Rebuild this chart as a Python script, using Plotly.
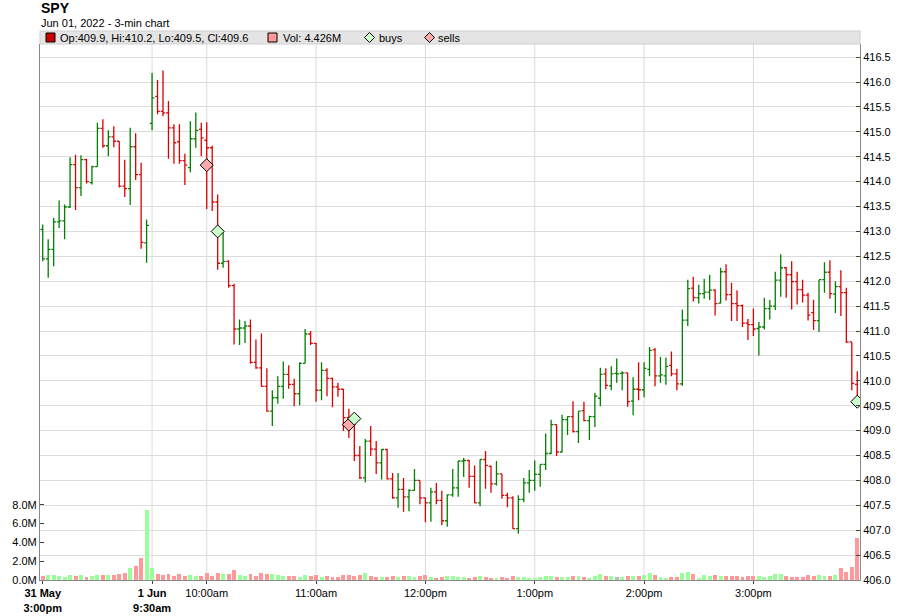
import plotly.graph_objects as go
from datetime import datetime, timedelta

# ---------------- data ----------------
symbol = "SPY"
chart_date = "Jun 01, 2022"
bar_minutes = 3
session_days = ["2022-05-31", "2022-06-01"]
session_starts = ["15:00", "09:30"]
session_bars = [20, 130]

opens = [413.04, 412.45, 412.64, 413.19, 413.21, 413.49, 414.34, 413.88, 414.44, 413.98,
         414.30, 415.07, 414.72, 414.90, 414.81, 413.91, 413.86, 414.70, 414.14, 412.77,
         415.17, 415.71, 415.41, 415.38, 415.08, 414.80, 414.42, 414.28, 414.86, 415.05,
         414.83, 414.68, 413.59, 412.36, 412.40, 411.91, 411.04, 411.06, 411.10, 410.37,
         410.26, 409.89, 409.39, 409.66, 409.89, 410.13, 409.93, 409.74, 410.35, 410.94,
         410.75, 409.81, 410.21, 410.05, 409.88, 409.83, 409.26, 409.12, 408.50, 408.05,
         408.79, 408.63, 408.35, 408.62, 408.03, 407.65, 407.82, 407.67, 407.80, 408.00,
         407.65, 407.55, 407.77, 407.60, 407.19, 407.71, 407.85, 408.39, 408.40, 408.08,
         407.55, 408.42, 408.28, 407.93, 408.13, 407.70, 407.65, 407.03, 407.62, 407.95,
         408.00, 408.12, 408.32, 408.54, 409.12, 408.57, 409.22, 409.28, 408.98, 409.40,
         409.20, 409.28, 409.65, 410.14, 409.90, 410.15, 410.15, 410.16, 409.59, 409.83,
         409.82, 410.23, 410.62, 410.10, 410.10, 410.31, 410.14, 409.94, 411.22, 411.86,
         411.67, 411.75, 411.78, 411.82, 411.56, 412.19, 411.73, 411.55, 411.51, 411.16,
         411.13, 411.05, 411.08, 411.45, 411.50, 412.02, 412.27, 412.13, 411.99, 411.83,
         411.72, 411.37, 411.21, 412.03, 412.18, 411.74, 411.89, 411.77, 410.78, 409.93]

highs = [413.14, 412.84, 413.27, 413.62, 413.54, 414.49, 414.54, 414.53, 414.46, 414.32,
         415.18, 415.25, 415.03, 415.11, 414.81, 414.44, 415.08, 414.97, 414.38, 413.24,
         416.18, 416.04, 416.23, 415.62, 415.15, 415.15, 414.56, 415.21, 415.39, 415.18,
         415.19, 414.72, 413.74, 413.00, 412.42, 411.95, 411.23, 411.20, 411.23, 410.83,
         410.95, 410.25, 409.81, 410.09, 410.39, 410.31, 410.04, 410.37, 411.04, 411.00,
         410.76, 410.37, 410.25, 410.06, 409.96, 409.84, 409.44, 409.19, 408.69, 408.83,
         409.09, 408.79, 408.63, 408.63, 408.15, 408.15, 408.05, 407.82, 408.23, 408.00,
         407.65, 407.85, 407.95, 407.79, 407.72, 408.23, 408.39, 408.45, 408.41, 408.30,
         408.42, 408.59, 408.30, 408.39, 408.13, 407.75, 407.68, 407.70, 408.05, 408.21,
         408.40, 408.32, 408.94, 409.22, 409.12, 409.32, 409.29, 409.59, 409.39, 409.58,
         409.30, 409.76, 410.26, 410.25, 410.29, 410.45, 410.19, 410.16, 410.07, 410.37,
         410.37, 410.68, 410.66, 410.48, 410.47, 410.59, 410.24, 411.43, 412.03, 412.09,
         411.93, 412.05, 412.13, 411.84, 412.27, 412.34, 411.97, 411.82, 411.53, 411.24,
         411.45, 411.18, 411.67, 411.62, 412.19, 412.54, 412.28, 412.40, 412.19, 412.03,
         411.77, 411.63, 412.03, 412.38, 412.42, 412.00, 412.22, 411.87, 410.78, 410.19]

lows = [412.40, 412.07, 412.30, 413.07, 412.84, 413.47, 413.43, 413.71, 413.96, 413.94,
        414.30, 414.68, 414.51, 414.69, 413.88, 413.69, 413.53, 414.03, 412.65, 412.37,
        415.03, 415.35, 415.31, 414.46, 414.36, 414.36, 413.93, 414.19, 414.68, 414.51,
        413.45, 413.41, 412.23, 412.27, 411.87, 410.73, 410.72, 410.76, 410.34, 410.24,
        409.88, 409.38, 409.09, 409.54, 409.64, 409.84, 409.49, 409.51, 410.35, 410.72,
        409.58, 409.61, 409.69, 409.47, 409.68, 408.99, 408.85, 408.39, 408.03, 407.96,
        408.49, 408.13, 408.02, 408.02, 407.63, 407.45, 407.37, 407.38, 407.79, 407.52,
        407.16, 407.17, 407.52, 407.10, 407.07, 407.67, 407.67, 408.07, 407.85, 407.54,
        407.48, 407.83, 407.75, 407.90, 407.63, 407.46, 407.03, 406.93, 407.56, 407.75,
        407.79, 407.87, 408.21, 408.53, 408.49, 408.56, 408.91, 408.96, 408.75, 409.19,
        408.81, 409.07, 409.49, 409.83, 409.81, 409.96, 409.81, 409.48, 409.31, 409.61,
        409.67, 410.09, 409.89, 409.96, 409.92, 410.09, 409.81, 409.90, 411.10, 411.59,
        411.55, 411.65, 411.62, 411.31, 411.55, 411.61, 411.20, 411.20, 411.08, 410.82,
        410.90, 410.51, 411.03, 411.23, 411.42, 411.69, 411.67, 411.43, 411.53, 411.57,
        411.21, 411.02, 410.98, 411.77, 411.65, 411.36, 411.30, 410.76, 409.81, 409.48]

closes = [412.45, 412.64, 413.19, 413.21, 413.49, 414.34, 413.88, 414.44, 414.00, 414.30,
          415.07, 414.72, 414.90, 414.81, 413.91, 413.86, 414.70, 414.14, 412.78, 413.12,
          415.68, 415.41, 415.38, 415.08, 414.78, 414.42, 414.33, 414.86, 415.03, 414.88,
          414.68, 413.59, 412.36, 412.40, 411.91, 411.04, 411.06, 411.10, 410.37, 410.26,
          409.89, 409.39, 409.66, 409.89, 410.13, 409.93, 409.74, 410.35, 410.94, 410.75,
          409.81, 410.21, 410.05, 409.88, 409.83, 409.26, 409.12, 408.50, 408.05, 408.79,
          408.63, 408.35, 408.62, 408.03, 407.65, 407.82, 407.67, 407.80, 408.00, 407.65,
          407.55, 407.77, 407.60, 407.19, 407.71, 407.85, 408.39, 408.40, 408.08, 407.55,
          408.42, 408.30, 407.93, 408.13, 407.70, 407.65, 407.03, 407.62, 407.95, 408.00,
          408.12, 408.32, 408.54, 409.12, 408.57, 409.22, 409.28, 408.98, 409.39, 409.20,
          409.28, 409.69, 410.13, 409.91, 410.14, 410.14, 410.16, 409.58, 409.83, 409.82,
          410.25, 410.61, 410.10, 410.12, 410.29, 410.14, 409.94, 411.22, 411.85, 411.67,
          411.75, 411.78, 411.82, 411.55, 412.19, 411.73, 411.55, 411.51, 411.16, 411.13,
          411.04, 411.08, 411.45, 411.50, 412.02, 412.27, 412.13, 411.99, 411.83, 411.72,
          411.32, 411.21, 412.03, 412.18, 411.75, 411.89, 411.77, 410.78, 409.95, 409.58]

prior_close = 412.30

volumes_m = [0.43, 0.53, 0.53, 0.43, 0.32, 0.53, 0.43, 0.53, 0.32, 0.43,
             0.53, 0.53, 0.53, 0.53, 0.64, 0.74, 1.28, 1.49, 2.34, 7.44,
             1.28, 0.64, 0.53, 0.64, 0.43, 0.64, 0.43, 0.53, 0.43, 0.43,
             0.74, 0.43, 0.74, 0.64, 0.64, 1.06, 0.53, 0.43, 0.64, 0.43,
             0.74, 0.64, 0.64, 0.53, 0.43, 0.43, 0.43, 0.32, 0.53, 0.43,
             0.53, 0.32, 0.43, 0.32, 0.32, 0.53, 0.53, 0.43, 0.53, 0.74,
             0.43, 0.32, 0.32, 0.32, 0.43, 0.32, 0.43, 0.43, 0.32, 0.43,
             0.53, 0.32, 0.21, 0.34, 0.43, 0.43, 0.34, 0.34, 0.23, 0.34,
             0.43, 0.34, 0.23, 0.23, 0.34, 0.23, 0.43, 0.34, 0.34, 0.25,
             0.25, 0.35, 0.43, 0.43, 0.35, 0.35, 0.35, 0.43, 0.43, 0.35,
             0.25, 0.43, 0.67, 0.43, 0.43, 0.35, 0.35, 0.43, 0.43, 0.43,
             0.53, 0.74, 0.53, 0.35, 0.25, 0.35, 0.35, 0.71, 0.82, 0.60,
             0.25, 0.53, 0.43, 0.53, 0.43, 0.43, 0.43, 0.43, 0.35, 0.43,
             0.43, 0.43, 0.35, 0.43, 0.60, 0.67, 0.43, 0.35, 0.35, 0.35,
             0.53, 0.43, 0.53, 0.43, 0.43, 0.53, 1.28, 0.85, 1.38, 4.426]

buy_bars = [32, 57, 149]
buy_prices = [413.00, 409.24, 409.58]
sell_bars = [30, 56]
sell_prices = [414.33, 409.12]

tick_times = ["2022-05-31 15:00", "2022-06-01 09:30", "2022-06-01 10:00", "2022-06-01 11:00",
              "2022-06-01 12:00", "2022-06-01 13:00", "2022-06-01 14:00", "2022-06-01 15:00"]
tick_labels = ["<b>31 May</b><br><b>3:00pm</b>", "<b>1 Jun</b><br><b>9:30am</b>", "10:00am",
               "11:00am", "12:00pm", "1:00pm", "2:00pm", "3:00pm"]

price_ticks_step = 0.5
vol_tick_values_m = [0, 2, 4, 6, 8]

# ---------------- derived ----------------
times = []
for day, start, n in zip(session_days, session_starts, session_bars):
    t0 = datetime.strptime(day + " " + start, "%Y-%m-%d %H:%M")
    for k in range(n):
        times.append((t0 + timedelta(minutes=bar_minutes * k)).strftime("%Y-%m-%d %H:%M"))
idx = list(range(len(times)))
tick_x = [times.index(t) for t in tick_times]

UP, DOWN = "#008000", "#dd0000"
VUP, VDOWN, VFLAT = "#99ff99", "#ff9999", "#bbbbbb"

bar_dir = []
last = 1
for i, c in enumerate(closes):
    ref = prior_close if i == 0 else closes[i - 1]
    if c > ref:
        last = 1
    elif c < ref:
        last = -1
    bar_dir.append(last)

vol_colors = []
for i, c in enumerate(closes):
    ref = opens[0] if i == 0 else closes[i - 1]
    if round(c - ref, 4) > 0:
        vol_colors.append(VUP)
    elif round(c - ref, 4) < 0:
        vol_colors.append(VDOWN)
    else:
        vol_colors.append(VFLAT)

# ---------------- geometry helpers (pixels -> paper) ----------------
W, H = 900, 616
ML, MR, MT, MB = 40, 40, 44, 36
PW, PH = W - ML - MR, H - MT - MB


def pxx(x):
    return (x - ML) / PW


def pxy(y):
    return (H - MB - y) / PH


PX_PER_UNIT = 49.8
PX_PER_M = 9.41
y_lo = 406.0
y_hi = y_lo + PH / PX_PER_UNIT
v_hi = PH / PX_PER_M * 1e6

fig = go.Figure()

fig.add_trace(go.Bar(
    x=idx, y=[v * 1e6 for v in volumes_m], yaxis="y2",
    marker=dict(color=vol_colors, line=dict(width=0)), width=0.72,
    hoverinfo="skip", showlegend=False))

for d, col in [(1, UP), (-1, DOWN)]:
    sel = [i for i in idx if bar_dir[i] == d]
    fig.add_trace(go.Ohlc(
        x=sel,
        open=[opens[i] for i in sel], high=[highs[i] for i in sel],
        low=[lows[i] for i in sel], close=[closes[i] for i in sel],
        increasing=dict(line=dict(color=col, width=1.3)),
        decreasing=dict(line=dict(color=col, width=1.3)),
        tickwidth=0.42, showlegend=False, yaxis="y", hoverinfo="skip"))

fig.add_trace(go.Scatter(
    x=sell_bars, y=sell_prices, mode="markers", showlegend=False, hoverinfo="skip",
    marker=dict(symbol="diamond", size=10, color="#ffaaaa", line=dict(color="#000", width=1))))
fig.add_trace(go.Scatter(
    x=buy_bars, y=buy_prices, mode="markers", showlegend=False, hoverinfo="skip",
    marker=dict(symbol="diamond", size=10, color="#ccffcc", line=dict(color="#000", width=1))))

shapes = []
for tx in tick_x[1:]:
    shapes.append(dict(type="line", xref="x", yref="paper", x0=tx, x1=tx, y0=0, y1=1,
                       line=dict(color="#dcdcdc", width=1), layer="below"))

# legend strip
shapes.append(dict(type="rect", xref="paper", yref="paper", x0=pxx(40), x1=pxx(860),
                   y0=pxy(44), y1=pxy(31), fillcolor="#e4e4e4",
                   line=dict(color="#cfcfcf", width=1), layer="above"))
shapes.append(dict(type="rect", xref="paper", yref="paper", x0=pxx(46), x1=pxx(55),
                   y0=pxy(42), y1=pxy(33), fillcolor="#cc0000", line=dict(color="#000", width=1)))
shapes.append(dict(type="rect", xref="paper", yref="paper", x0=pxx(268), x1=pxx(277),
                   y0=pxy(42), y1=pxy(33), fillcolor="#ff9999", line=dict(color="#000", width=1)))


def diamond(cx, cy, r, fill):
    path = (f"M {pxx(cx - r)},{pxy(cy)} L {pxx(cx)},{pxy(cy - r)} "
            f"L {pxx(cx + r)},{pxy(cy)} L {pxx(cx)},{pxy(cy + r)} Z")
    return dict(type="path", xref="paper", yref="paper", path=path, fillcolor=fill,
                line=dict(color="#000", width=1))


shapes.append(diamond(369.5, 37.5, 5, "#ccffcc"))
shapes.append(diamond(429.5, 37.5, 5, "#ffaaaa"))

legend_font = dict(family="Liberation Sans, Arial, sans-serif", size=11, color="#000")
last_i = len(closes) - 1
ohlc_txt = (f"Op:{opens[last_i]:.1f}, Hi:{highs[last_i]:.1f}, "
            f"Lo:{lows[last_i]:.1f}, Cl:{closes[last_i]:.1f}")
vol_txt = f"Vol: {volumes_m[last_i]:.3f}M"

annotations = [
    dict(text=f"<b>{symbol}</b>", x=pxx(39), y=pxy(8), xref="paper", yref="paper",
         xanchor="left", yanchor="middle", showarrow=False,
         font=dict(family="Liberation Sans, Arial, sans-serif", size=14, color="#000")),
    dict(text=f"{chart_date} - {bar_minutes}-min chart", x=pxx(39), y=pxy(23),
         xref="paper", yref="paper", xanchor="left", yanchor="middle", showarrow=False,
         font=dict(family="Liberation Sans, Arial, sans-serif", size=11, color="#000")),
    dict(text=ohlc_txt, x=pxx(58), y=pxy(37.5), xref="paper", yref="paper",
         xanchor="left", yanchor="middle", showarrow=False, font=legend_font),
    dict(text=vol_txt, x=pxx(281), y=pxy(37.5), xref="paper", yref="paper",
         xanchor="left", yanchor="middle", showarrow=False, font=legend_font),
    dict(text="buys", x=pxx(377), y=pxy(37.5), xref="paper", yref="paper",
         xanchor="left", yanchor="middle", showarrow=False, font=legend_font),
    dict(text="sells", x=pxx(436), y=pxy(37.5), xref="paper", yref="paper",
         xanchor="left", yanchor="middle", showarrow=False, font=legend_font),
]

price_ticks = []
p = y_lo
while p <= y_hi + 1e-9:
    price_ticks.append(round(p, 1))
    p += price_ticks_step

fig.update_layout(
    width=W, height=H,
    margin=dict(l=ML, r=MR, t=MT, b=MB, pad=0, autoexpand=False),
    paper_bgcolor="white", plot_bgcolor="white",
    font=dict(family="Liberation Sans, Arial, sans-serif", size=11, color="#000"),
    showlegend=False, bargap=0, hovermode=False,
    shapes=shapes, annotations=annotations,
    xaxis=dict(range=[-0.5, len(idx) - 0.5], tickmode="array", tickvals=tick_x,
               ticktext=tick_labels, ticks="outside", ticklen=3, tickcolor="#444",
               showgrid=False, zeroline=False, showline=True, linecolor="#888",
               linewidth=1, rangeslider=dict(visible=False), tickangle=0, automargin=False),
    yaxis=dict(side="right", range=[y_lo, y_hi], tickmode="array", tickvals=price_ticks,
               ticktext=[f"{v:.1f}" for v in price_ticks], ticks="inside", ticklen=4,
               tickcolor="#444", showgrid=True, gridcolor="#dcdcdc", gridwidth=1,
               zeroline=False, showline=True, linecolor="#888", linewidth=1,
               automargin=False),
    yaxis2=dict(overlaying="y", side="left", range=[0, v_hi], tickmode="array",
                tickvals=[v * 1e6 for v in vol_tick_values_m],
                ticktext=[f"{v:.1f}M" for v in vol_tick_values_m],
                ticks="inside", ticklen=4, tickcolor="#444", showgrid=False,
                zeroline=False, showline=True, linecolor="#888", linewidth=1,
                automargin=False),
)

fig.write_html("out.html", config={"displayModeBar": False, "staticPlot": True},
               post_script="document.body.style.margin='0px';"
                           "document.body.style.overflow='hidden';")
